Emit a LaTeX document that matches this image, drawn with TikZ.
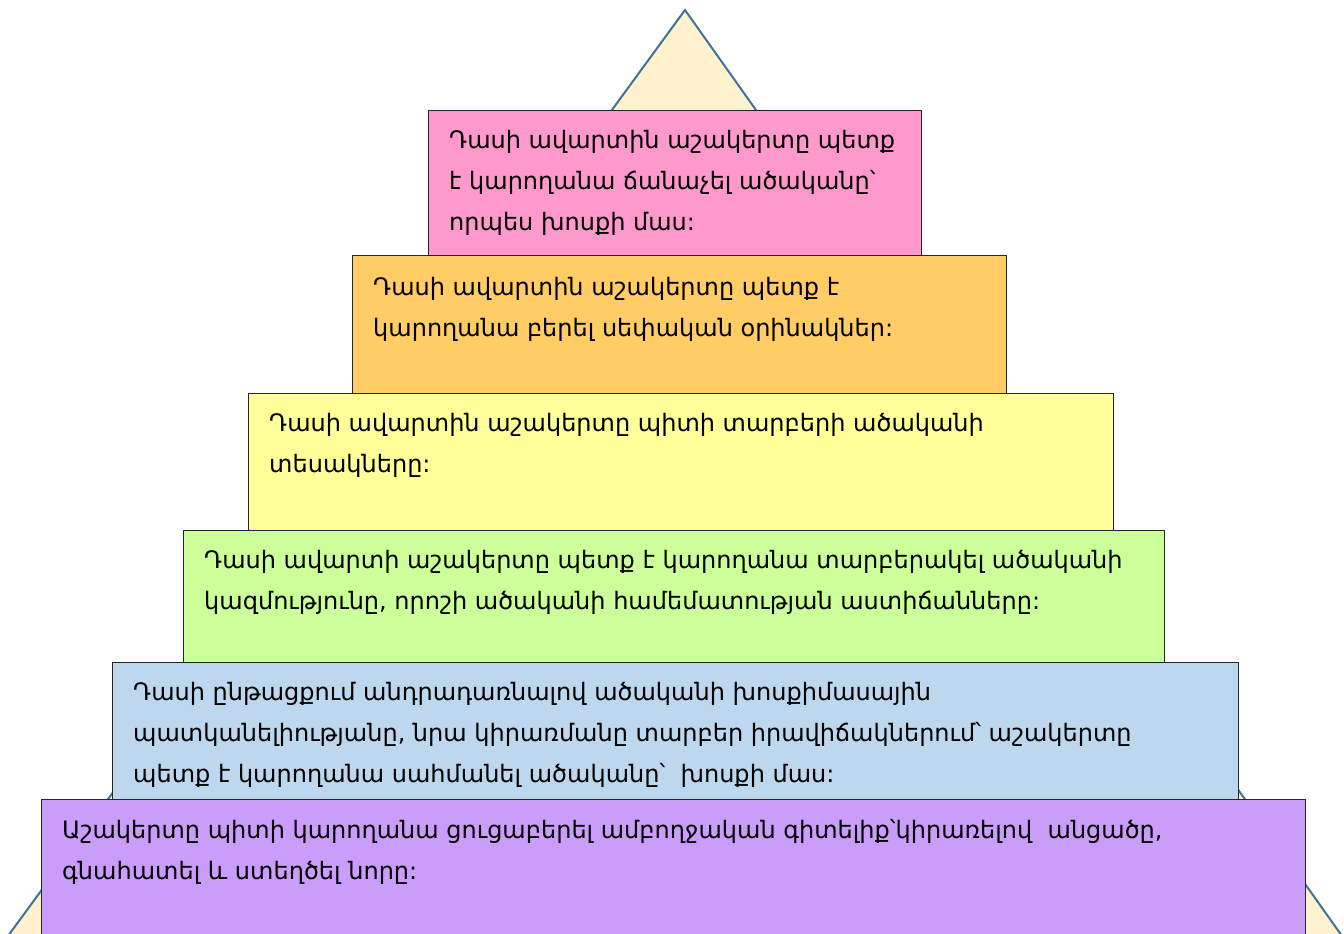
\documentclass[tikz,border=0pt]{standalone}
\usepackage{fontspec}
\setmainfont{DejaVu Sans}
\begin{document}
\begin{tikzpicture}[x=1pt,y=-1pt,
  level/.style={draw=black!85, line width=1pt, anchor=north west, inner sep=0pt, outer sep=0pt},
  line/.style={anchor=base west, inner sep=0pt, font=\fontsize{24}{28}\selectfont, text=black}]
\definecolor{pyrfill}{HTML}{FFF2CC}
\definecolor{pyrline}{HTML}{41719C}
\definecolor{cpink}{HTML}{FF99CC}
\definecolor{corange}{HTML}{FFCC66}
\definecolor{cyellow}{HTML}{FFFF99}
\definecolor{cgreen}{HTML}{CCFF99}
\definecolor{cblue}{HTML}{BDD7EE}
\definecolor{cpurple}{HTML}{CA9DFA}
\useasboundingbox (0,0) rectangle (1344,934);
\clip (0,0) rectangle (1344,934);
% background pyramid
\coordinate (apex) at (685,10);
\coordinate (bl) at (8,936);
\coordinate (br) at (1342,936);
\draw[fill=pyrfill, draw=pyrline, line width=2pt, line join=miter] (bl) -- (apex) -- (br);
% stacked levels
\node[level, fill=cpink,   minimum width=493pt,  minimum height=145pt] (l1) at (428,110) {};
\node[level, fill=corange, minimum width=654pt,  minimum height=138pt] (l2) at (352,255) {};
\node[level, fill=cyellow, minimum width=865pt,  minimum height=137pt] (l3) at (248,393) {};
\node[level, fill=cgreen,  minimum width=981pt,  minimum height=132pt] (l4) at (183,530) {};
\node[level, fill=cblue,   minimum width=1126pt, minimum height=138pt] (l5) at (112,662) {};
\node[level, fill=cpurple, minimum width=1264pt, minimum height=160pt] (l6) at (41,799) {};
% texts
\node[line] (t11) at ([xshift=21pt,yshift=-38pt]l1.north west) {Դասի ավարտին աշակերտը պետք};
\node[line] (t12) at ([yshift=-41pt]t11.base west) {է կարողանա ճանաչել ածականը՝};
\node[line] (t13) at ([yshift=-41pt]t12.base west) {որպես խոսքի մաս:};
\node[line] (t21) at ([xshift=21pt,yshift=-40pt]l2.north west) {Դասի ավարտին աշակերտը պետք է};
\node[line] (t22) at ([yshift=-41pt]t21.base west) {կարողանա բերել սեփական օրինակներ:};
\node[line] (t31) at ([xshift=21pt,yshift=-38pt]l3.north west) {Դասի ավարտին աշակերտը պիտի տարբերի ածականի};
\node[line] (t32) at ([yshift=-41pt]t31.base west) {տեսակները:};
\node[line] (t41) at ([xshift=21pt,yshift=-38pt]l4.north west) {Դասի ավարտի աշակերտը պետք է կարողանա տարբերակել ածականի};
\node[line] (t42) at ([yshift=-41pt]t41.base west) {կազմությունը, որոշի ածականի համեմատության աստիճանները:};
\node[line] (t51) at ([xshift=21pt,yshift=-38pt]l5.north west) {Դասի ընթացքում անդրադառնալով ածականի խոսքիմասային};
\node[line] (t52) at ([yshift=-41pt]t51.base west) {պատկանելիությանը, նրա կիրառմանը տարբեր իրավիճակներում՝ աշակերտը};
\node[line] (t53) at ([yshift=-41pt]t52.base west) {պետք է կարողանա սահմանել ածականը՝ \ խոսքի մաս:};
\node[line] (t61) at ([xshift=21pt,yshift=-39pt]l6.north west) {Աշակերտը պիտի կարողանա ցուցաբերել ամբողջական գիտելիք՝կիրառելով \ անցածը,};
\node[line] (t62) at ([yshift=-41pt]t61.base west) {գնահատել և ստեղծել նորը:};
\end{tikzpicture}
\end{document}
